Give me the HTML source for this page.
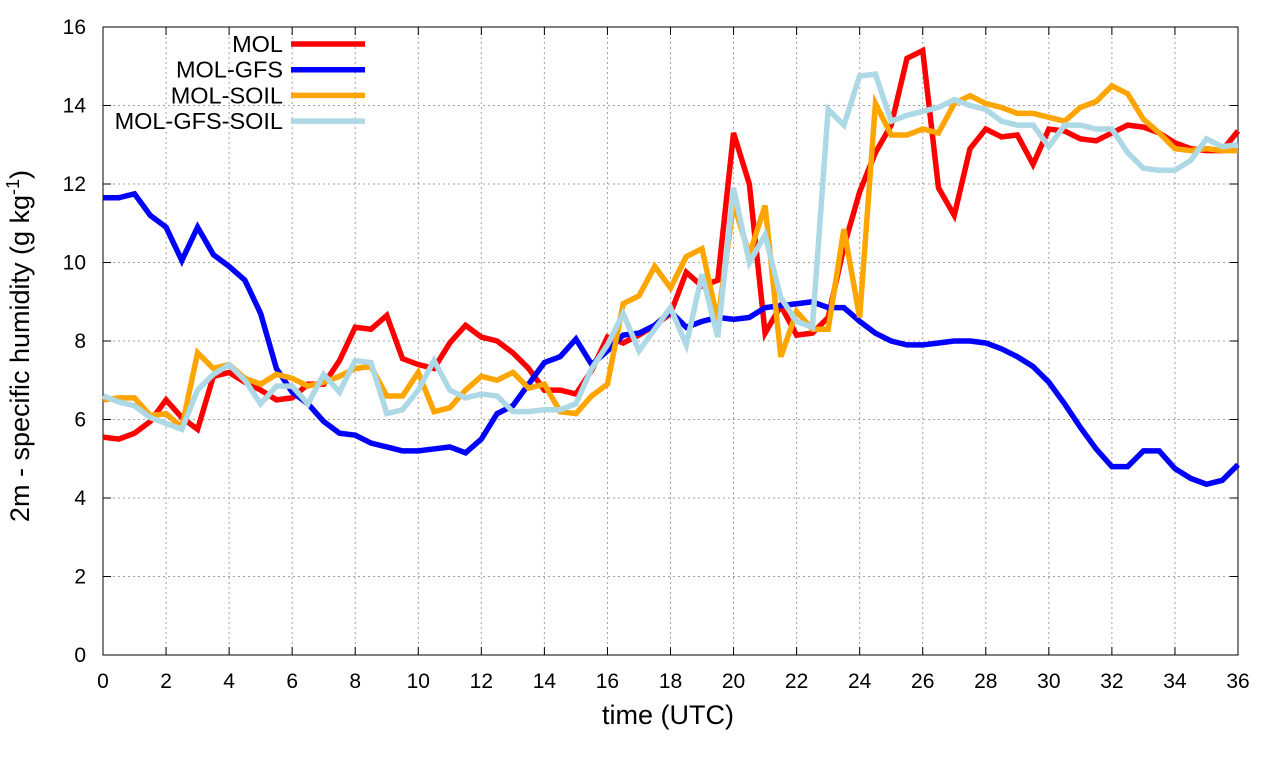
<!DOCTYPE html>
<html><head><meta charset="utf-8"><style>
body{margin:0;background:#fff;}
svg text{font-family:"Liberation Sans",sans-serif;fill:#000;}
</style></head><body>
<svg id="chart" width="1280" height="760" xmlns="http://www.w3.org/2000/svg">
<g id="grid"></g>
<g id="axes"></g>
<g id="series"></g>
<g id="legend"></g>
<text x="668" y="724" font-size="27" text-anchor="middle">time (UTC)</text>
<text transform="translate(29,346) rotate(-90)" font-size="27" text-anchor="middle">2m - specific humidity (g kg<tspan dy="-10" font-size="18">-1</tspan><tspan dy="10">)</tspan></text>
</svg>
<script>
const xTicks = [0,2,4,6,8,10,12,14,16,18,20,22,24,26,28,30,32,34,36];
const yTicks = [0,2,4,6,8,10,12,14,16];
const seriesNames = ["MOL","MOL-GFS","MOL-SOIL","MOL-GFS-SOIL"];
const seriesColors = ["#ff0000","#0000ff","#ffa500","#add8e6"];
const mol = [5.55,5.5,5.65,5.95,6.5,6.05,5.75,7.1,7.2,6.95,6.75,6.5,6.55,6.9,6.9,7.5,8.35,8.3,8.65,7.55,7.4,7.3,7.95,8.4,8.1,8.0,7.7,7.3,6.75,6.75,6.65,7.25,8.1,7.95,8.15,8.4,8.7,9.75,9.4,9.55,13.3,12.0,8.2,8.9,8.15,8.2,8.6,10.4,11.8,12.8,13.5,15.2,15.4,11.9,11.2,12.9,13.4,13.2,13.25,12.5,13.4,13.35,13.15,13.1,13.3,13.5,13.45,13.3,13.05,12.9,12.85,12.85,13.35];
const molGfs = [11.65,11.65,11.75,11.2,10.9,10.05,10.9,10.2,9.9,9.55,8.7,7.3,6.7,6.4,5.95,5.65,5.6,5.4,5.3,5.2,5.2,5.25,5.3,5.15,5.5,6.15,6.35,6.9,7.45,7.6,8.05,7.4,7.75,8.15,8.2,8.4,8.75,8.35,8.5,8.6,8.55,8.6,8.85,8.9,8.95,9.0,8.85,8.85,8.5,8.2,8.0,7.9,7.9,7.95,8.0,8.0,7.95,7.8,7.6,7.35,6.95,6.4,5.8,5.25,4.8,4.8,5.2,5.2,4.75,4.5,4.35,4.45,4.85];
const molSoil = [6.5,6.55,6.55,6.1,6.15,5.8,7.7,7.3,7.4,7.05,6.9,7.15,7.05,6.85,6.95,7.1,7.3,7.35,6.6,6.6,7.2,6.2,6.3,6.75,7.1,7.0,7.2,6.8,6.9,6.2,6.15,6.6,6.9,8.95,9.15,9.9,9.35,10.15,10.35,8.5,11.5,10.2,11.45,7.6,8.75,8.3,8.3,10.85,8.6,14.05,13.25,13.25,13.4,13.3,14.05,14.25,14.05,13.95,13.8,13.8,13.7,13.6,13.95,14.1,14.5,14.3,13.65,13.3,12.9,12.85,12.9,12.85,12.85];
const molGfsSoil = [6.6,6.45,6.35,6.05,5.9,5.75,6.75,7.15,7.4,7.0,6.4,6.85,6.85,6.4,7.15,6.7,7.5,7.45,6.15,6.25,6.75,7.5,6.75,6.55,6.65,6.6,6.2,6.2,6.25,6.25,6.4,7.3,7.9,8.7,7.75,8.3,8.85,7.9,9.7,8.1,11.9,10.0,10.7,9.1,8.5,8.35,13.9,13.5,14.75,14.8,13.6,13.75,13.85,13.95,14.15,14.0,13.9,13.6,13.5,13.5,12.95,13.5,13.5,13.4,13.4,12.8,12.4,12.35,12.35,12.6,13.15,12.95,13.0];
const allSeries = [mol, molGfs, molSoil, molGfsSoil];
const times = mol.map((_, i) => i * 0.5);

const X0=103, X1=1238, Y0=655, Y1=27;
const xs = t => X0 + (t/36)*(X1-X0);
const ys = v => Y0 - (v/16)*(Y0-Y1);
const NS="http://www.w3.org/2000/svg";
function mk(tag, parent){const e=document.createElementNS(NS,tag);parent.appendChild(e);return e;}
const grid=document.getElementById('grid'), axes=document.getElementById('axes'), ser=document.getElementById('series'), leg=document.getElementById('legend');

xTicks.forEach(t=>{
  const x=xs(t);
  if(t>0&&t<36){const g=mk('line',grid);
  
  
  g.setAttribute('x1',x);g.setAttribute('x2',x);g.setAttribute('y1',Y1);g.setAttribute('y2',Y0);
  g.setAttribute('stroke','#a0a0a0');g.setAttribute('stroke-dasharray','2,3');}
  const tk=mk('path',axes);
  
  
  tk.setAttribute('d',`M${x},${Y0}v-8M${x},${Y1}v8`);tk.setAttribute('stroke','#000');
  const tx=mk('text',axes);
  
  
  tx.setAttribute('x',x);tx.setAttribute('y',688);tx.setAttribute('font-size','21');tx.setAttribute('text-anchor','middle');tx.textContent=t;
});
yTicks.forEach(v=>{
  const y=ys(v);
  if(v>0&&v<16){const g=mk('line',grid);
  
  
  g.setAttribute('x1',X0);g.setAttribute('x2',X1);g.setAttribute('y1',y);g.setAttribute('y2',y);
  g.setAttribute('stroke','#a0a0a0');g.setAttribute('stroke-dasharray','2,3');}
  const tk=mk('path',axes);
  
  
  tk.setAttribute('d',`M${X0},${y}h8M${X1},${y}h-8`);tk.setAttribute('stroke','#000');
  const tx=mk('text',axes);
  
  
  tx.setAttribute('x',86);tx.setAttribute('y',y+7);tx.setAttribute('font-size','21');tx.setAttribute('text-anchor','end');tx.textContent=v;
});
const frame=mk('rect',axes);


frame.setAttribute('x',X0);frame.setAttribute('y',Y1);frame.setAttribute('width',X1-X0);frame.setAttribute('height',Y0-Y1);
frame.setAttribute('fill','none');frame.setAttribute('stroke','#000');

allSeries.forEach((arr,k)=>{
  const p=mk('polyline',ser);
  
  
  p.setAttribute('points',arr.map((v,i)=>xs(times[i])+','+ys(v)).join(' '));
  p.setAttribute('fill','none');p.setAttribute('stroke',seriesColors[k]);p.setAttribute('stroke-width','5.5');p.setAttribute('stroke-linejoin','miter');
  const ly=44+k*25.7;
  const t=mk('text',leg);
  
  
  t.setAttribute('x',283);t.setAttribute('y',ly+8);t.setAttribute('font-size','23.5');t.setAttribute('text-anchor','end');t.textContent=seriesNames[k];
  const l=mk('line',leg);
  
  
  l.setAttribute('x1',291);l.setAttribute('x2',365);l.setAttribute('y1',ly);l.setAttribute('y2',ly);
  l.setAttribute('stroke',seriesColors[k]);l.setAttribute('stroke-width','5.5');
});
</script>
</body></html>
